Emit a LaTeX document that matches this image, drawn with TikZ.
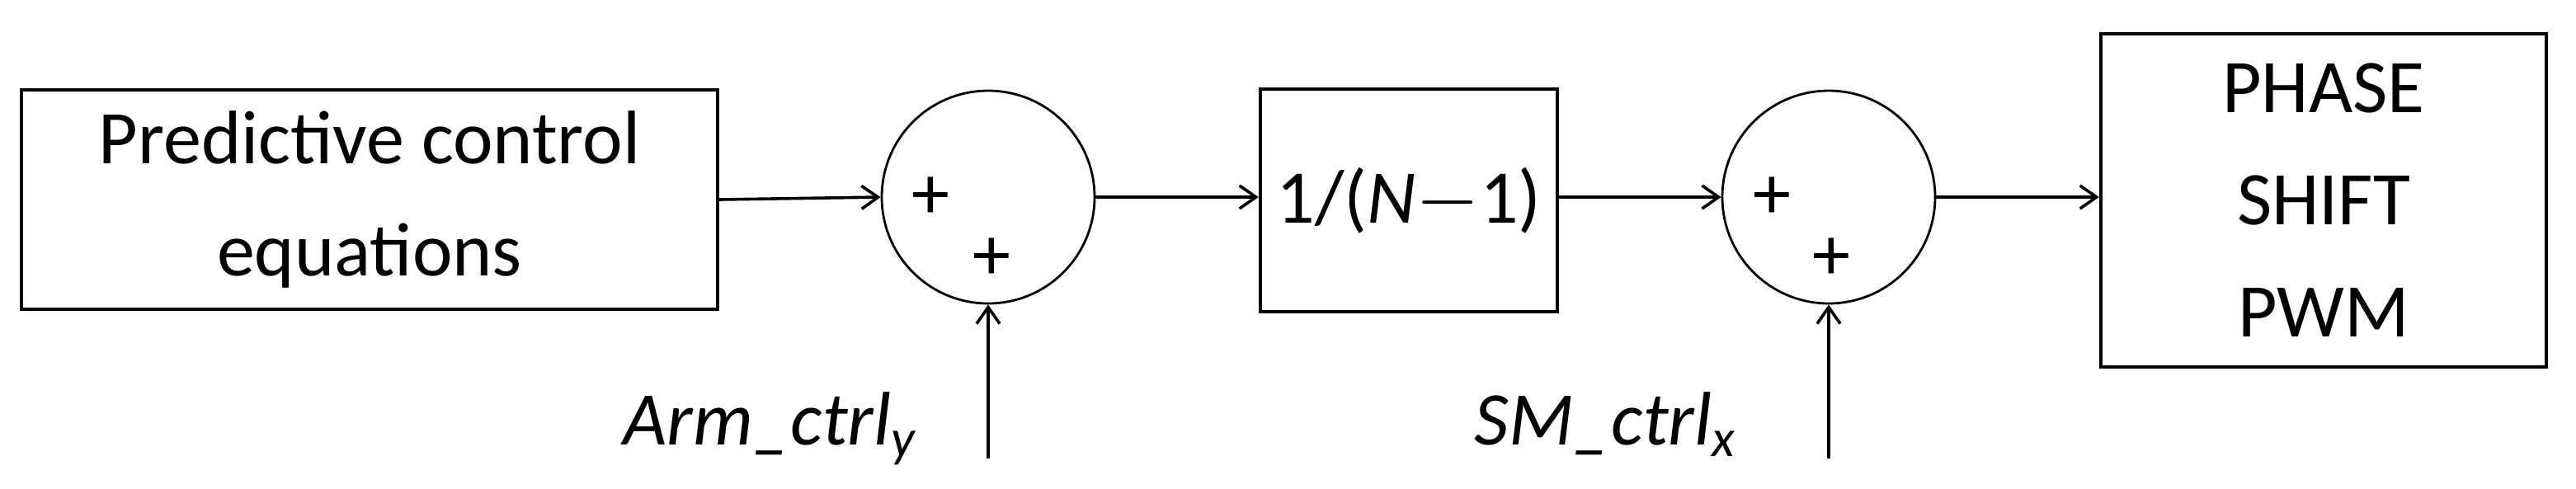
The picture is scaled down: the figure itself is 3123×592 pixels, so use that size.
\documentclass[tikz,border=0pt]{standalone}
\usepackage{fontspec}
\setmainfont{Carlito}
\usetikzlibrary{arrows.meta}
\begin{document}
\begin{tikzpicture}[x=0.25pt,y=-0.25pt,
  blk/.style={draw,line width=1.1pt,inner sep=0pt,font=\fontsize{23}{34}\selectfont,align=center},
  sumc/.style={draw,circle,line width=0.7pt,minimum size=64.5pt,inner sep=0pt},
  arr/.style={line width=0.9pt,-{Straight Barb[length=5pt,width=7pt]}},
  pl/.style={font=\fontsize{23}{23}\selectfont,inner sep=0pt},
  lab/.style={font=\fontsize{23}{23}\selectfont\itshape,inner sep=0pt,anchor=base east}]
\useasboundingbox (0,0) rectangle (3123,592);
\node[blk,minimum width=211pt,minimum height=66.5pt] (pc) at (448,242) {Predictive control\\equations};
\node[sumc] (s1) at (1198,239) {};
\node[blk,minimum width=90pt,minimum height=67.5pt] (gn) at (1708,243) {1/(\textit{N}$-$1)};
\node[sumc] (s2) at (2217,239) {};
\node[blk,minimum width=135pt,minimum height=101pt] (pw) at (2817,243) {PHASE\\SHIFT\\PWM};
\node[pl] at (1128,240) {+};
\node[pl] at (1202,314) {+};
\node[pl] at (2148,240) {+};
\node[pl] at (2220,314) {+};
\coordinate (a1) at (1198,556);
\coordinate (a2) at (2217,556);
\node[lab] at (1112,539) {Arm\_ctrl\textsubscript{\fontsize{16}{16}\selectfont y}};
\node[lab] at (2106,539) {SM\_ctrl\textsubscript{\fontsize{16}{16}\selectfont x}};
\draw[arr] (pc.east) -- (s1.west);
\draw[arr] (s1.east) -- (gn.west |- s1.east);
\draw[arr] (gn.east |- s2.west) -- (s2.west);
\draw[arr] (s2.east) -- (pw.west |- s2.east);
\draw[arr] (a1) -- (s1.south);
\draw[arr] (a2) -- (s2.south);
\end{tikzpicture}
\end{document}
